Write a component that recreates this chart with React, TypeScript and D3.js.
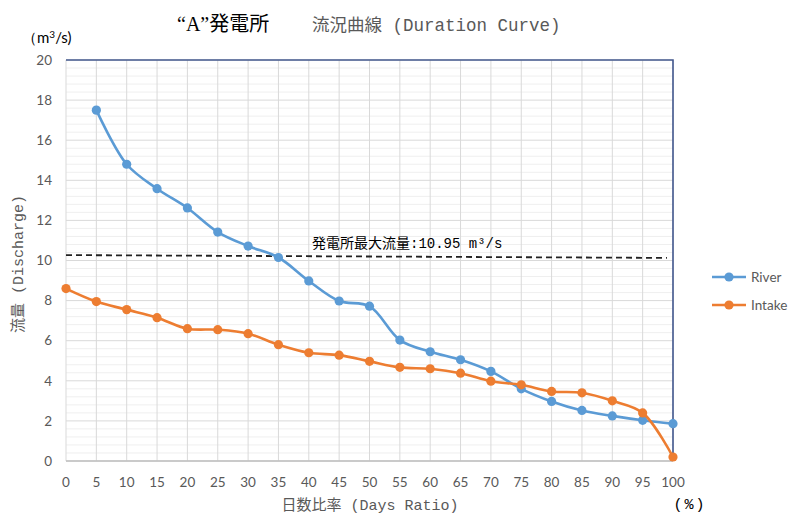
import React from "react";
import * as d3 from "d3";

// Duration curve data: percentage of days (x) vs. discharge in m³/s (y)
const daysRatio = [0, 5, 10, 15, 20, 25, 30, 35, 40, 45, 50, 55, 60, 65, 70, 75, 80, 85, 90, 95, 100];
const riverFlow: (number | null)[] = [
  null, 17.5, 14.8, 13.58, 12.62, 11.42, 10.72, 10.15, 8.98, 7.98, 7.72,
  6.03, 5.45, 5.05, 4.47, 3.6, 2.97, 2.52, 2.25, 2.03, 1.86,
];
const intakeFlow = [
  8.6, 7.95, 7.55, 7.15, 6.6, 6.55, 6.35, 5.8, 5.4, 5.28, 4.97,
  4.67, 4.6, 4.38, 3.98, 3.8, 3.47, 3.4, 3.0, 2.4, 0.2,
];
// Plant maximum discharge reference line (start / end)
const maxLineX = [0, 99];
const maxLineY = [10.27, 10.13];
const maxLineLabel = "発電所最大流量:10.95 m³/s";

const yTicks = [0, 2, 4, 6, 8, 10, 12, 14, 16, 18, 20];
const seriesNames = ["River", "Intake"];
const seriesColors = ["#5B9BD5", "#ED7D31"];

const W = 792;
const H = 515;
const plot = { left: 66, right: 673, top: 60, bottom: 461 };

const labelFont = "Lato, 'Noto Sans', sans-serif";
const monoFont = "'Liberation Mono', 'Noto Sans CJK JP', monospace";

export default function App() {
  const x = d3.scaleLinear().domain([0, 100]).range([plot.left, plot.right]);
  const y = d3.scaleLinear().domain([0, 20]).range([plot.bottom, plot.top]);

  const minorTicks = d3.range(0, 20.001, 0.4).filter(
    (v) => Math.abs(v / 2 - Math.round(v / 2)) > 1e-6
  );

  const line = d3
    .line<[number, number | null]>()
    .defined((d) => d[1] !== null)
    .x((d) => x(d[0]))
    .y((d) => y(d[1] as number))
    .curve(d3.curveCatmullRom.alpha(0.5));

  const series = [riverFlow, intakeFlow].map((vals) =>
    daysRatio.map((d, i) => [d, vals[i]] as [number, number | null])
  );

  return (
    <svg
      width={W}
      height={H}
      style={{ position: "absolute", left: 0, top: 0, background: "#fff" }}
    >
      {/* Title */}
      <text x={177} y={31} fontSize={20} fill="#000" fontFamily="'Liberation Serif', 'Noto Sans CJK JP', serif">
        “A”発電所
      </text>
      <text x={312} y={31} fontSize={17.5} fill="#595959" fontFamily={monoFont}>
        流況曲線 (Duration Curve)
      </text>

      {/* Minor horizontal gridlines */}
      {minorTicks.map((v) => (
        <line key={"mn" + v} x1={plot.left} x2={plot.right} y1={y(v)} y2={y(v)} stroke="#efefef" strokeWidth={1} />
      ))}
      {/* Major horizontal gridlines */}
      {yTicks.map((v) => (
        <line key={"mj" + v} x1={plot.left} x2={plot.right} y1={y(v)} y2={y(v)} stroke="#d9d9d9" strokeWidth={1} />
      ))}
      {/* Vertical gridlines */}
      {daysRatio.map((v) => (
        <line key={"vx" + v} x1={x(v)} x2={x(v)} y1={plot.top} y2={plot.bottom} stroke="#d9d9d9" strokeWidth={1} />
      ))}
      {/* Axis baseline */}
      <line x1={plot.left} x2={plot.right} y1={y(0)} y2={y(0)} stroke="#bfbfbf" strokeWidth={1.3} />
      {/* Top and right frame */}
      <polyline
        points={`${plot.left},${plot.top} ${plot.right},${plot.top} ${plot.right},${plot.bottom}`}
        fill="none"
        stroke="#44598f"
        strokeWidth={1.6}
      />

      {/* Y tick labels */}
      {yTicks.map((v) => (
        <text key={"yt" + v} x={52} y={y(v)} dy="0.35em" textAnchor="end" fontSize={13.5} fill="#595959" fontFamily={labelFont}>
          {v}
        </text>
      ))}
      {/* X tick labels */}
      {daysRatio.map((v) => (
        <text key={"xt" + v} x={x(v)} y={482} dy="0.35em" textAnchor="middle" fontSize={13.5} fill="#595959" fontFamily={labelFont}>
          {v}
        </text>
      ))}

      {/* Axis titles */}
      <text x={22} y={43} fontSize={15} fill="#000" fontFamily={labelFont}>
        （m<tspan dy={-5} fontSize={10}>3</tspan><tspan dy={5}>/s)</tspan>
      </text>
      <text
        transform={`translate(23,264) rotate(-90)`}
        textAnchor="middle"
        fontSize={15}
        fill="#595959"
        fontFamily={monoFont}
      >
        流量 (Discharge)
      </text>
      <text x={370} y={510} textAnchor="middle" fontSize={15} fill="#595959" fontFamily={monoFont}>
        日数比率 (Days Ratio)
      </text>
      <text x={690} y={509} textAnchor="middle" fontSize={15} letterSpacing={2} fill="#000" fontFamily={monoFont}>
        (%)
      </text>

      {/* Maximum discharge reference line */}
      <line
        x1={x(maxLineX[0])}
        x2={x(maxLineX[1])}
        y1={y(maxLineY[0])}
        y2={y(maxLineY[1])}
        stroke="#222"
        strokeWidth={1.8}
        strokeDasharray="6,4"
      />
      <text x={312} y={248} fontSize={14} fill="#000" fontFamily={monoFont}>
        {maxLineLabel}
      </text>

      {/* Series lines and markers */}
      {series.map((pts, si) => (
        <g key={"s" + si}>
          <path d={line(pts) || ""} fill="none" stroke={seriesColors[si]} strokeWidth={2.6} strokeLinejoin="round" />
          {pts
            .filter((p) => p[1] !== null)
            .map((p) => (
              <circle key={p[0]} cx={x(p[0])} cy={y(p[1] as number)} r={4.6} fill={seriesColors[si]} />
            ))}
        </g>
      ))}

      {/* Legend */}
      {seriesNames.map((name, i) => {
        const ly = 277 + i * 28;
        return (
          <g key={name}>
            <line x1={712} x2={746} y1={ly} y2={ly} stroke={seriesColors[i]} strokeWidth={2.6} />
            <circle cx={729} cy={ly} r={4.6} fill={seriesColors[i]} />
            <text x={751} y={ly} dy="0.35em" fontSize={13.5} fill="#595959" fontFamily={labelFont}>
              {name}
            </text>
          </g>
        );
      })}
    </svg>
  );
}
